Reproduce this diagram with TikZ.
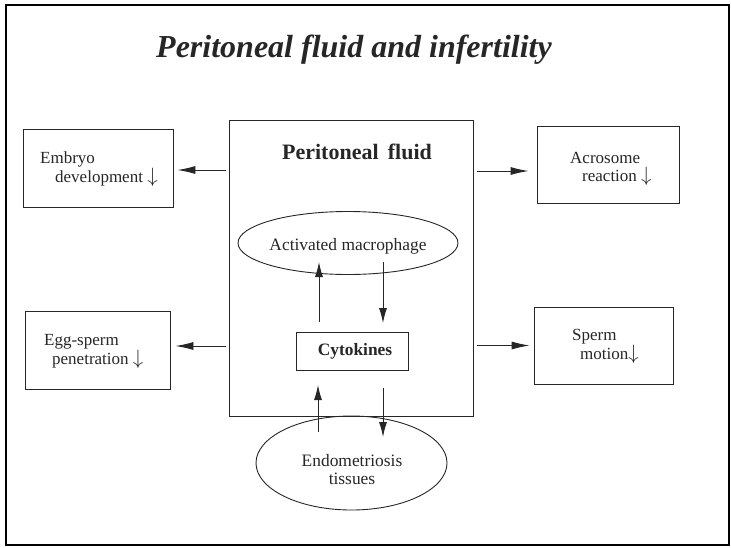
\documentclass[tikz,border=0pt]{standalone}
\usepackage{fontspec}
\setmainfont{Liberation Serif}
\usetikzlibrary{shapes.geometric,arrows.meta}
\tikzset{
  boxline/.style={draw=black!85, line width=0.9pt},
  sidebox/.style={boxline, rectangle, inner sep=0pt},
  txt/.style={inner sep=0pt, font=\fontsize{17}{20}\selectfont, text=black!85},
  sidetxt/.style={inner sep=0pt, anchor=west, align=left, font=\fontsize{17}{17.5}\selectfont, text=black!85},
  arr/.style={draw=black!85, line width=0.9pt, -{Latex[length=15pt,width=8pt]}},
  harr/.style={arr, -{Latex[length=18pt,width=8pt]}},
}
\newcommand{\dn}{{\fontsize{21}{17.5}\selectfont$\downarrow$}}
\begin{document}
\begin{tikzpicture}[x=1pt,y=-1pt]
\useasboundingbox (0,0) rectangle (731,547);
% frame
\draw[line width=2.6pt, black] (6,5) rectangle (729,545);
% title
\node[inner sep=0pt, anchor=base, font=\fontsize{32}{36}\bfseries\itshape\selectfont, text=black!85] (title) at (354,57) {Peritoneal fluid and infertility};
% main box
\node[sidebox, minimum width=244pt, minimum height=296pt] (main) at (351,268) {};
\node[inner sep=0pt, anchor=base, font=\fontsize{22}{24}\bfseries\selectfont, text=black!85] (pf) at (357,159.5) {Peritoneal\, fluid};
% macrophage ellipse
\node[boxline, ellipse, minimum width=220pt, minimum height=63pt, inner sep=0pt] (mac) at (348,243) {};
\node[txt, font=\fontsize{17.4}{20}\selectfont] (mact) at (348,246) {Activated macrophage};
% cytokines
\node[sidebox, minimum width=112pt, minimum height=38pt] (cyto) at (352,351) {};
\node[txt, font=\fontsize{17.4}{20}\bfseries\selectfont] (cytot) at (355,351) {Cytokines};
% endometriosis ellipse
\node[boxline, ellipse, minimum width=191pt, minimum height=94pt, inner sep=0pt] (endo) at (351.5,463) {};
\node[txt, align=center, font=\fontsize{17.4}{17.5}\selectfont] (endot) at (352,469.5) {Endometriosis\\tissues};
% side boxes
\node[sidebox, minimum width=150pt, minimum height=78pt] (emb) at (98,168) {};
\node[sidetxt] (embt) at (40,169) {Embryo\\\hspace*{15pt}development \dn};
\node[sidebox, minimum width=145pt, minimum height=78pt] (egg) at (97.5,350) {};
\node[sidetxt] (eggt) at (44,351.5) {Egg-sperm\\\hspace*{8pt}penetration \dn};
\node[sidebox, minimum width=142pt, minimum height=77pt] (acr) at (608,164.5) {};
\node[sidetxt] (acrt) at (570,169) {Acrosome\\\hspace*{12pt}reaction \dn};
\node[sidebox, minimum width=139pt, minimum height=77pt] (spm) at (603.5,345.5) {};
\node[sidetxt] (spmt) at (572,346.5) {Sperm\\\hspace*{8pt}motion\dn};
% connector coordinates
\coordinate (c1a) at (319,322); \coordinate (c1b) at (319,262);
\coordinate (c2a) at (383,262); \coordinate (c2b) at (383,323);
\coordinate (c3a) at (318,432); \coordinate (c3b) at (318,385);
\coordinate (c4a) at (383,388); \coordinate (c4b) at (383,437);
\draw[arr] (c1a) -- (c1b);
\draw[arr] (c2a) -- (c2b);
\draw[arr] (c3a) -- (c3b);
\draw[arr] (c4a) -- (c4b);
% side arrows
\draw[harr] ([xshift=-3pt,yshift=-2pt]main.west |- emb.east) -- ([xshift=4pt,yshift=-2pt]emb.east);
\draw[harr] ([xshift=-3pt,yshift=4pt]main.west |- egg.east) -- ([xshift=5pt,yshift=4pt]egg.east);
\draw[harr] ([xshift=4pt,yshift=-6.5pt]main.east |- acr.west) -- ([xshift=-8pt,yshift=-6.5pt]acr.west);
\draw[harr] ([xshift=4pt]main.east |- spm.west) -- ([xshift=-4pt]spm.west);
\end{tikzpicture}
\end{document}
